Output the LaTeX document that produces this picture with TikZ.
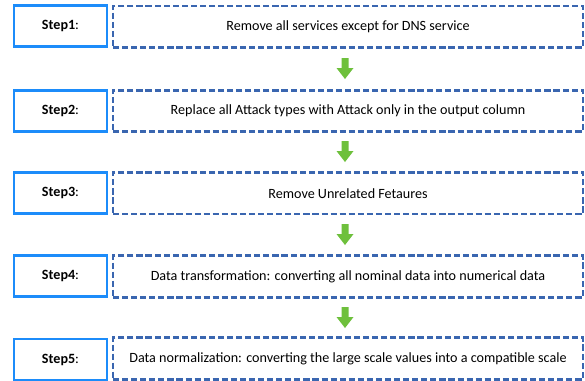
\documentclass[tikz,border=0pt]{standalone}
\usepackage{fontspec}
\setmainfont{Carlito}
\definecolor{stepblue}{RGB}{28,140,250}
\definecolor{dashblue}{RGB}{58,102,176}
\definecolor{arrowgreen}{RGB}{110,192,60}
\tikzset{
  stepbox/.style={draw=stepblue, line width=2.2pt, minimum width=93*0.75pt, minimum height=41*0.75pt, inner sep=0pt, font=\fontsize{10.6}{13}\selectfont},
  textbox/.style={draw=dashblue, line width=1.9pt, dash pattern=on 4.6pt off 2.2pt, minimum width=470*0.75pt, minimum height=41.5*0.75pt, inner sep=0pt, font=\fontsize{10.6}{13}\selectfont}
}
\newcommand{\greenarrow}[3]{%
  % #1 name, #2 centre x, #3 top y
  \fill[arrowgreen] (#2-3.5,#3) -- (#2+3.5,#3) -- (#2+3.5,#3+10) -- (#2+8.5,#3+10)
     -- (#2,#3+21) -- (#2-8.5,#3+10) -- (#2-3.5,#3+10) -- cycle;
  \coordinate (#1) at (#2,#3);
}
\begin{document}
\begin{tikzpicture}[x=0.75pt,y=-0.75pt]
  \useasboundingbox (0,0) rectangle (585,380);
  \clip (0,0) rectangle (585,380);
  \fill[white] (0,0) rectangle (585,380);

  % left labels
  \node[stepbox] (s1) at (60.5,26.2) {\textbf{Step1}:};
  \node[stepbox] (s2) at (60.5,110.8) {\textbf{Step2}:};
  \node[stepbox] (s3) at (60.5,192.9) {\textbf{Step3}:};
  \node[stepbox] (s4) at (60.5,276.2) {\textbf{Step4}:};
  \node[stepbox] (s5) at (60.5,359.5) {\textbf{Step5}:};

  % descriptions
  \node[textbox] (t1) at (348,26.7) {Remove all services except for DNS service};
  \node[textbox] (t2) at (348,111) {Replace all Attack types with Attack only in the output column};
  \node[textbox] (t3) at (348,193.3) {Remove Unrelated Fetaures};
  \node[textbox] (t4) at (348,276.5) {Data transformation: converting all nominal data into numerical data};
  \node[textbox] (t5) at (348,358.5) {Data normalization: converting the large scale values into a compatible scale};

  % green arrows between steps
  \greenarrow{a1}{345}{58}
  \greenarrow{a2}{345}{141}
  \greenarrow{a3}{345}{224}
  \greenarrow{a4}{345}{307}
\end{tikzpicture}
\end{document}
